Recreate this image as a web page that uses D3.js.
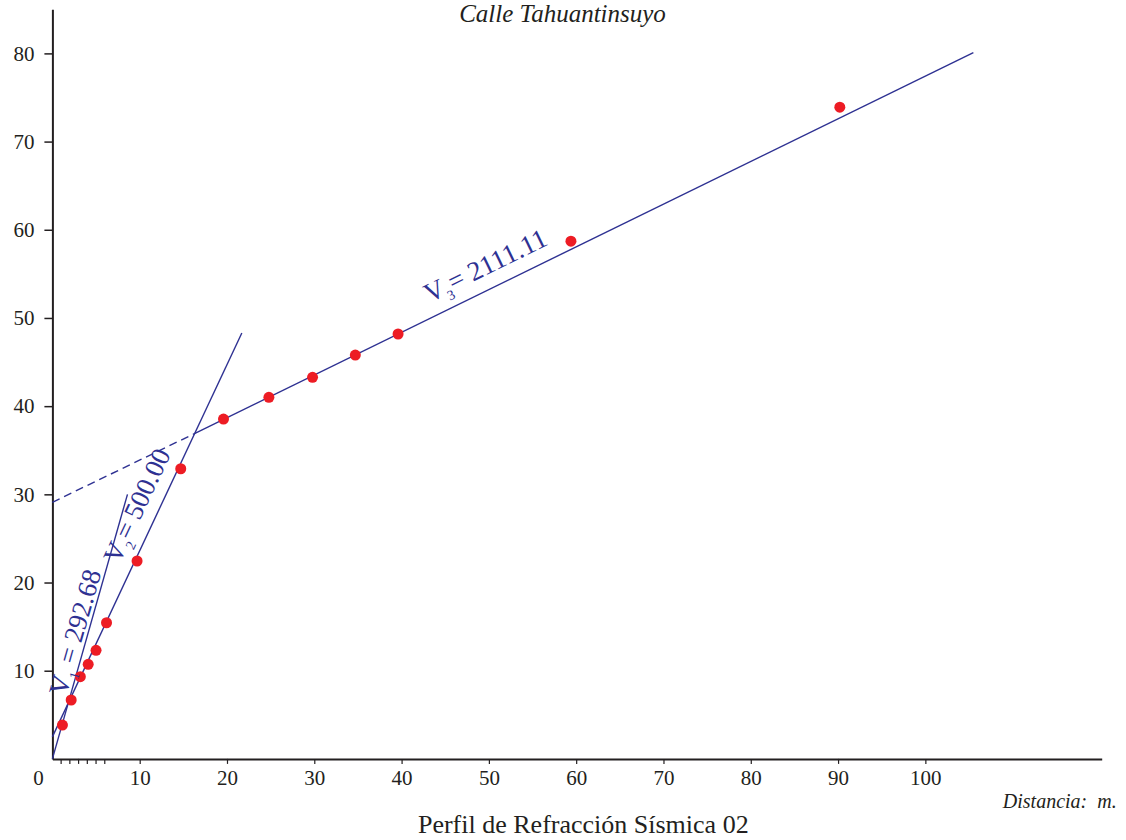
<!DOCTYPE html>
<html>
<head>
<meta charset="utf-8">
<script src="https://cdn.jsdelivr.net/npm/d3@7"></script>
<style>
body{margin:0;background:#fff}
svg{display:block}
text{font-family:"Liberation Serif","Times New Roman",serif;}
</style>
</head>
<body>
<svg id="chart" width="1126" height="840"></svg>
<script>
// ---- data ----
const distances = [1.15, 2.15, 3.2, 4.1, 5.0, 6.2, 9.7, 14.7, 19.6, 24.8, 29.8, 34.7, 39.6, 59.4, 90.2];
const times     = [3.84, 6.68, 9.32, 10.73, 12.31, 15.44, 22.44, 32.9, 38.54, 41.0, 43.27, 45.79, 48.18, 58.7, 73.9];
const xTicks = [10, 20, 30, 40, 50, 60, 70, 80, 90, 100];
const xMinorTicks = [1, 2, 3, 4, 5, 6];
const yTicks = [10, 20, 30, 40, 50, 60, 70, 80];
const v1Line = [[0, 0], [8.6, 30.0]];
const v2Line = [[0, 2.5], [21.7, 48.3]];
const v3Line = [[16.1, 36.8], [105.5, 80.1]];
const v3Extension = [[0, 29.1], [16.1, 36.8]];
const labelNames = ["V", "V", "V"];
const labelSubs = ["1", "2", "3"];
const labelValues = [" = 292.68", "= 500.00", "= 2111.11"];
const labelAnchorX = [1.56, 7.63, 43.19];
const labelAnchorY = [7.02, 21.98, 51.7];
const title = "Calle Tahuantinsuyo";
const caption = "Perfil de Refracción Sísmica 02";
const xAxisTitle = "Distancia:  m.";

// ---- layout ----
const svg = d3.select("#chart");
const x = d3.scaleLinear().domain([0, 120.2]).range([52.4, 1101.7]);
const y = d3.scaleLinear().domain([0, 85]).range([758.9, 9.3]);
const blue = "#2e3192";
const ink = "#231f20";

// axes
const xAxis = svg.append("g").attr("transform", `translate(0,${y(0)})`)
  .call(d3.axisBottom(x).tickValues(xTicks).tickSize(5).tickPadding(6).tickSizeOuter(0));
xAxis.select(".domain").attr("stroke", ink).attr("stroke-width", 2);
xAxis.selectAll(".tick line").attr("stroke", ink).attr("stroke-width", 1.2);
xAxis.selectAll("text").attr("fill", ink).style("font-size", "21px").style("font-family", '"Liberation Serif",serif');

svg.append("g").selectAll("line").data(xMinorTicks).join("line")
  .attr("x1", d => x(d)).attr("x2", d => x(d))
  .attr("y1", y(0)).attr("y2", y(0) + 5)
  .attr("stroke", ink).attr("stroke-width", 1.2);

svg.append("text").attr("x", x(0) - 14).attr("y", y(0) + 26)
  .attr("text-anchor", "middle").attr("fill", ink).style("font-size", "21px").text("0");

const yAxis = svg.append("g").attr("transform", `translate(${x(0)},0)`)
  .call(d3.axisLeft(y).tickValues(yTicks).tickSize(8).tickPadding(10).tickSizeOuter(0));
yAxis.select(".domain").attr("stroke", ink).attr("stroke-width", 2);
yAxis.selectAll(".tick line").attr("stroke", ink).attr("stroke-width", 1.5);
yAxis.selectAll("text").attr("fill", ink).style("font-size", "21px").style("font-family", '"Liberation Serif",serif');

// lines
const lineGen = d3.line().x(d => x(d[0])).y(d => y(d[1]));
[v1Line, v2Line, v3Line].forEach(seg => {
  svg.append("path").attr("d", lineGen(seg)).attr("fill", "none")
    .attr("stroke", blue).attr("stroke-width", 1.4);
});
svg.append("path").attr("d", lineGen(v3Extension)).attr("fill", "none")
  .attr("stroke", blue).attr("stroke-width", 1.4).attr("stroke-dasharray", "8,5");

// points
svg.append("g").selectAll("circle").data(distances.map((d, i) => [d, times[i]])).join("circle")
  .attr("cx", d => x(d[0])).attr("cy", d => y(d[1])).attr("r", 5.5).attr("fill", "#ed1c24");

// velocity labels (aligned with their lines)
const lineSet = [v1Line, v2Line, v3Line];
labelNames.forEach((n, i) => {
  const seg = lineSet[i];
  const ang = Math.atan2(y(seg[1][1]) - y(seg[0][1]), x(seg[1][0]) - x(seg[0][0])) * 180 / Math.PI;
  const t = svg.append("text")
    .attr("transform", `translate(${x(labelAnchorX[i])},${y(labelAnchorY[i])}) rotate(${ang})`)
    .attr("fill", blue).style("font-size", "27px");
  t.append("tspan").text(n);
  t.append("tspan").attr("dy", 7).style("font-size", "14px").text(labelSubs[i]);
  t.append("tspan").attr("dy", -7).style("white-space", "pre").text(labelValues[i]);
});

// titles
svg.append("text").attr("x", 562.5).attr("y", 22).attr("text-anchor", "middle")
  .attr("fill", ink).style("font-style", "italic").style("font-size", "25px").text(title);
svg.append("text").attr("x", 583.3).attr("y", 833).attr("text-anchor", "middle")
  .attr("fill", ink).style("font-size", "26px").text(caption);
svg.append("text").attr("x", 1116.7).attr("y", 808).attr("text-anchor", "end")
  .attr("fill", ink).style("font-style", "italic").style("font-size", "20px").style("white-space", "pre").text(xAxisTitle);
</script>
</body>
</html>
